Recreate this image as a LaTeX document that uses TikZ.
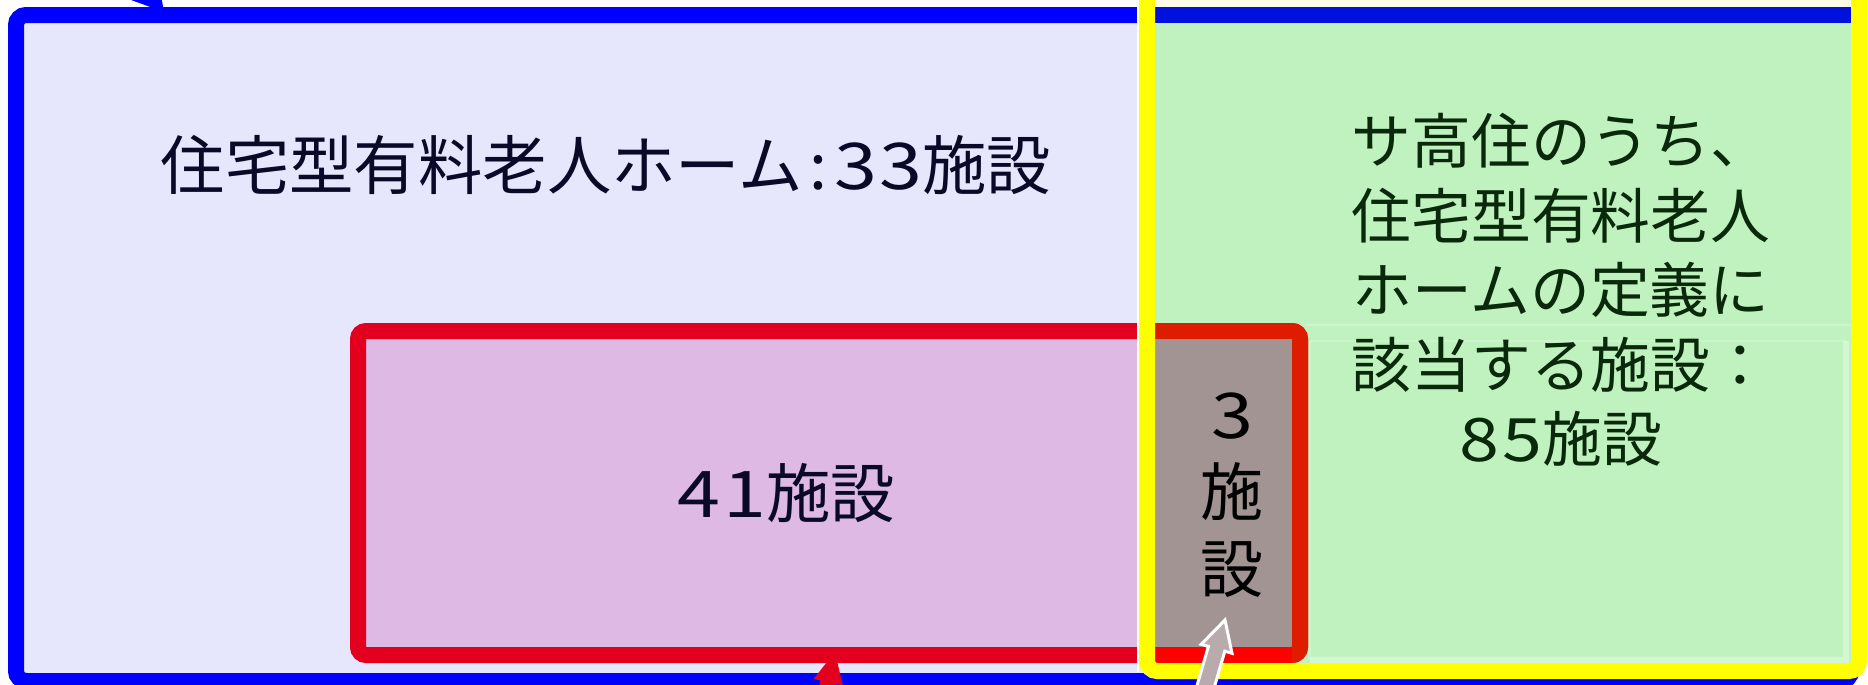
\documentclass[tikz,border=0pt]{standalone}
\usepackage{fontspec}
\setmainfont{Noto Sans CJK JP}
\newfontfamily\digfont[FakeStretch=1.2]{Noto Sans CJK JP}
\newcommand\dg[1]{{\digfont #1}}
\definecolor{lav}{HTML}{E6E6FC}
\definecolor{bluec}{HTML}{0000FF}
\definecolor{bluedk}{HTML}{0010DD}
\definecolor{redc}{HTML}{E3001F}
\definecolor{redo}{HTML}{DE1C00}
\definecolor{redp}{HTML}{FF0000}
\definecolor{pinkf}{HTML}{DEB9E4}
\definecolor{grayf}{HTML}{A39494}
\definecolor{grn}{HTML}{C0F2C0}
\definecolor{yel}{HTML}{FFFF00}
\definecolor{yelgrn}{HTML}{DDF800}
\definecolor{topyel}{HTML}{FFFDE8}
\definecolor{txtnavy}{HTML}{0A0A28}
\definecolor{txtgrn}{HTML}{0A280A}
\definecolor{arrgray}{HTML}{B9ABAB}
\tikzset{
  bigtext/.style={font=\fontsize{32.2pt}{38pt}\selectfont, inner sep=0pt},
  grntext/.style={font=\fontsize{29.9pt}{37.3pt}\selectfont, inner sep=0pt, align=center, text=txtgrn},
  boxline/.style={line width=8pt},
  arrowshape/.style={line join=miter},
}
\begin{document}
\begin{tikzpicture}[x=0.5pt,y=-0.5pt]
\useasboundingbox (0,0) rectangle (1868,685);
\clip (0,0) rectangle (1868,685);
\fill[white] (0,0) rectangle (1868,685);
\fill[topyel] (1155,0) rectangle (1851,7);
% blue box
\draw[bluec, boxline, fill=lav, rounded corners=5pt] (16,15) rectangle (1851,681);
% green region of the yellow box
\fill[grn] (1155,23) rectangle (1851,663);
\fill[bluedk] (1155,7) rectangle (1851,23);
% faint lighter marks in green area
\draw[white, opacity=0.25, line width=1pt] (1305,325) -- (1851,325);
\draw[white, opacity=0.2, line width=1pt] (1310,341) -- (1846,341);
\draw[white, opacity=0.2, line width=1pt] (1310,341) -- (1310,660);
\draw[white, opacity=0.35, line width=3pt] (1846,341) -- (1846,660) -- (1310,660);
\fill[yelgrn] (1300,663) rectangle (1851,668);
% red box
\draw[redc, boxline, fill=pinkf, rounded corners=4pt] (358,331) rectangle (1300,655);
\fill[grayf] (1155,339) rectangle (1292,647);
\begin{scope}
  \clip (1155,300) rectangle (1320,670);
  \draw[redo, boxline, rounded corners=4pt] (1140,331) -- (1300,331) -- (1300,655) -- (1290,655);
  \draw[redp, boxline] (1140,655) -- (1292,655);
\end{scope}
% yellow box
\draw[white, line width=1pt] (1138,0) -- (1138,672);
\draw[yel, boxline, rounded corners=5pt] (1147,-40) rectangle (1859,671);
% texts
\node[bigtext, text=txtnavy] (t1) at (606,165) {住宅型有料老人ホーム\kern0.1em:\kern0.12em\dg{3\kern0.03em3}施設};
\node[bigtext, text=txtnavy] (t2) at (786,493) {\dg{4\kern0.05em1}施設};
\node[bigtext, align=center, text=black, font=\fontsize{31.5pt}{38.5pt}\selectfont] (t3) at (1232,495) {\dg{3}\\施\\設};
\node[grntext] (t4) at (1561,290) {サ高住のうち、\\住宅型有料老人\\ホームの定義に\\該当する施設：\\\dg{8\kern0.05em5}施設};
% blue arrow (pointing at blue box top)
\coordinate (bT) at (164,12);
\coordinate (bW1) at (155.9,-33.4);
\coordinate (bJ1) at (143.7,-23.1);
\coordinate (bE1) at (79.4,-99.5);
\coordinate (bE2) at (68.6,-90.5);
\coordinate (bJ2) at (132.9,-14.1);
\coordinate (bW2) at (120.7,-3.8);
\fill[bluec, arrowshape] (bT) -- (bW1) -- (bJ1) -- (bE1) -- (bE2) -- (bJ2) -- (bW2) -- cycle;
% red arrow (pointing at red box bottom)
\coordinate (rT) at (835,652);
\coordinate (rW1) at (842.8,685.5);
\coordinate (rJ1) at (836,684);
\coordinate (rE1) at (822.8,742.5);
\coordinate (rE2) at (807.2,738.9);
\coordinate (rJ2) at (820.4,680.4);
\coordinate (rW2) at (813.6,678.9);
\fill[redc, arrowshape] (rT) -- (rW1) -- (rJ1) -- (rE1) -- (rE2) -- (rJ2) -- (rW2) -- cycle;
% gray arrow (pointing at 3 facilities)
\coordinate (gT) at (1225,620);
\coordinate (gW1) at (1232,653.3);
\coordinate (gJ1) at (1224.8,651.2);
\coordinate (gE1) at (1205.2,718.4);
\coordinate (gE2) at (1188.8,713.6);
\coordinate (gJ2) at (1208.4,646.4);
\coordinate (gW2) at (1201.2,644.3);
\filldraw[draw=white, fill=arrgray, line width=1.5pt, arrowshape]
  (gT) -- (gW1) -- (gJ1) -- (gE1) -- (gE2) -- (gJ2) -- (gW2) -- cycle;
\end{tikzpicture}
\end{document}
